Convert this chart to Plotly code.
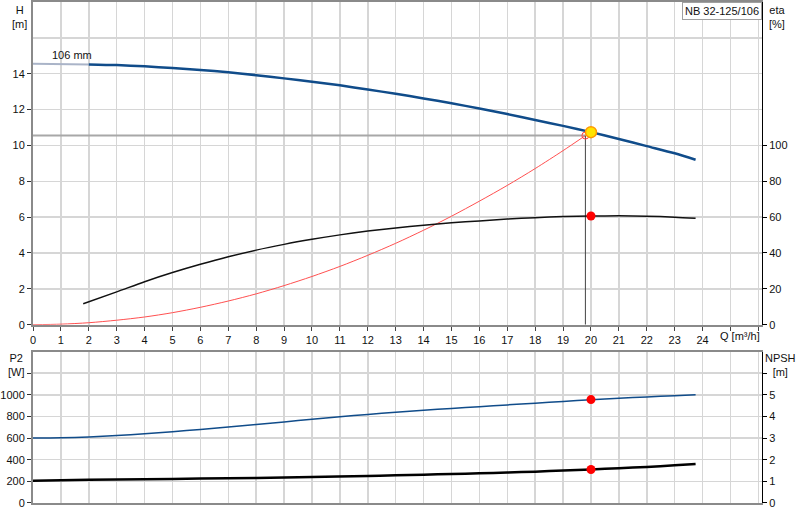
import plotly.graph_objects as go

# ---- data ----
q_h = [0, 1, 2, 3, 4, 5, 6, 7, 8, 9, 10, 11, 12, 13, 14, 15, 16, 17, 18, 19, 20, 21, 22, 23, 23.75]
h_vals = [14.55, 14.54, 14.52, 14.48, 14.41, 14.32, 14.21, 14.08, 13.92, 13.74, 13.55, 13.35,
          13.12, 12.88, 12.62, 12.35, 12.06, 11.75, 11.42, 11.09, 10.74, 10.36, 9.96, 9.56, 9.20]

q_eta = [1.8, 3, 4, 5, 6, 7, 8, 9, 10, 11, 12, 13, 14, 15, 16, 17, 18, 19, 20, 21, 22, 23, 23.75]
eta_vals = [11.7, 18.3, 24.0, 29.1, 33.7, 37.9, 41.6, 44.8, 47.6, 50.1, 52.2, 54.0, 55.5, 56.8,
            57.9, 58.9, 59.7, 60.3, 60.6, 60.7, 60.5, 60.0, 59.4]

q_sys = [0, 1, 2, 3, 4, 5, 6, 7, 8, 9, 10, 11, 12, 13, 14, 15, 16, 17, 18, 19, 19.8]
h_sys = [0, 0.03, 0.11, 0.25, 0.43, 0.67, 0.97, 1.32, 1.72, 2.18, 2.69, 3.25, 3.87, 4.54,
         5.27, 6.05, 6.89, 7.77, 8.71, 9.71, 10.55]

q_p2 = [0, 1, 2, 3, 4, 5, 6, 7, 8, 9, 10, 11, 12, 13, 14, 15, 16, 17, 18, 19, 20, 21, 22, 23, 23.75]
p2_vals = [600, 603, 611, 624, 640, 659, 680, 703, 726, 750, 774, 797, 819, 839, 857, 875,
           891, 907, 923, 939, 955, 969, 981, 992, 1000]

q_npsh = [0, 2, 4, 6, 8, 10, 12, 13, 14, 15, 16, 17, 18, 19, 20, 21, 22, 23, 23.75]
npsh_vals = [1.03, 1.07, 1.10, 1.13, 1.16, 1.20, 1.25, 1.28, 1.31, 1.34, 1.37, 1.41, 1.45,
             1.50, 1.55, 1.61, 1.67, 1.74, 1.80]

duty_q = 19.8
duty_h = 10.55
op_q = 20
op_h = 10.74
op_eta = 60.6
op_p2 = 956
op_npsh = 1.55

x_ticks = list(range(0, 27))
x_labels = [str(i) for i in range(0, 25)] + ["", ""]
h_ticks = [0, 2, 4, 6, 8, 10, 12, 14]
eta_ticks = [0, 20, 40, 60, 80, 100]
p2_ticks = [0, 200, 400, 600, 800, 1000, 1200]
p2_labels = ["0", "200", "400", "600", "800", "1000", ""]
npsh_ticks = [0, 1, 2, 3, 4, 5, 6]
npsh_labels = ["0", "1", "2", "3", "4", "5", ""]

BLUE = "#104c8a"
LIGHT = "#aab4c8"
GRID = "#d6d6d6"
AXG = "#8a8a8a"
FONT = dict(family="Liberation Sans, Arial, sans-serif", size=11, color="#111")
SMOOTH = dict(shape="spline", smoothing=0.8)

fig = go.Figure()

split = q_h.index(2)
# H curve
fig.add_trace(go.Scatter(x=q_h[:split + 1], y=h_vals[:split + 1], mode="lines",
                         line=dict(color=LIGHT, width=2), xaxis="x", yaxis="y"))
fig.add_trace(go.Scatter(x=q_h[split:], y=h_vals[split:], mode="lines",
                         line=dict(color=BLUE, width=2.5, **SMOOTH), xaxis="x", yaxis="y"))
# duty lines
fig.add_trace(go.Scatter(x=[0, duty_q], y=[duty_h, duty_h], mode="lines",
                         line=dict(color="#a8a8a8", width=2), xaxis="x", yaxis="y"))
fig.add_trace(go.Scatter(x=[duty_q, duty_q], y=[duty_h, 0], mode="lines",
                         line=dict(color="#444", width=1), xaxis="x", yaxis="y"))
# system curve
fig.add_trace(go.Scatter(x=q_sys, y=h_sys, mode="lines",
                         line=dict(color="#ff5050", width=1, **SMOOTH), xaxis="x", yaxis="y"))
fig.add_trace(go.Scatter(x=[duty_q], y=[duty_h], mode="markers",
                         marker=dict(size=7, color="rgba(0,0,0,0)", line=dict(color="#ff4040", width=1)),
                         xaxis="x", yaxis="y"))
# eta curve
fig.add_trace(go.Scatter(x=q_eta, y=eta_vals, mode="lines",
                         line=dict(color="#111", width=1.5, **SMOOTH), xaxis="x", yaxis="y2"))
fig.add_trace(go.Scatter(x=[op_q], y=[op_eta], mode="markers",
                         marker=dict(size=9, color="#ff0000"), xaxis="x", yaxis="y2"))
# operating point
fig.add_trace(go.Scatter(x=[op_q], y=[op_h], mode="markers",
                         marker=dict(size=11, color="#ffe400", line=dict(color="#ff9a00", width=1.5)),
                         xaxis="x", yaxis="y"))
# P2 and NPSH
fig.add_trace(go.Scatter(x=q_p2, y=p2_vals, mode="lines",
                         line=dict(color=BLUE, width=1.5, **SMOOTH), xaxis="x2", yaxis="y3"))
fig.add_trace(go.Scatter(x=[op_q], y=[op_p2], mode="markers",
                         marker=dict(size=9, color="#ff0000"), xaxis="x2", yaxis="y3"))
fig.add_trace(go.Scatter(x=q_npsh, y=npsh_vals, mode="lines",
                         line=dict(color="#000", width=2.5, **SMOOTH), xaxis="x2", yaxis="y4"))
fig.add_trace(go.Scatter(x=[op_q], y=[op_npsh], mode="markers",
                         marker=dict(size=9, color="#ff0000"), xaxis="x2", yaxis="y4"))

XR = [0, 26.13]
top_dom = [0.3559, 1.0]
bot_dom = [0.0, 0.3022]

common_x = dict(range=XR, tickvals=x_ticks, showgrid=True, gridcolor=GRID, gridwidth=1.5,
                zeroline=False, showline=True, linecolor=AXG, linewidth=2, mirror=True,
                tickfont=FONT)

fig.update_layout(
    width=800, height=520,
    margin=dict(l=32, r=38, t=0, b=17),
    paper_bgcolor="white", plot_bgcolor="white",
    showlegend=False,
    hovermode=False,
    font=FONT,
    xaxis=dict(**common_x, anchor="y", ticktext=x_labels, ticks="outside", ticklen=4,
               tickcolor="#444"),
    yaxis=dict(domain=top_dom, range=[0, 18], tickvals=h_ticks, ticks="outside", ticklen=4,
               tickcolor="#333", showgrid=True, gridcolor=GRID, gridwidth=1.5, zeroline=False,
               showline=True, linecolor=AXG, linewidth=2, tickfont=FONT,
               minor=dict(tickvals=[16], showgrid=True, gridcolor=GRID, gridwidth=1.5, ticks="")),
    yaxis2=dict(overlaying="y", side="right", anchor="x", range=[0, 180], tickvals=eta_ticks,
                ticks="outside", ticklen=4, tickcolor="#000", showgrid=False, zeroline=False,
                showline=True, linecolor="#000", linewidth=1, tickfont=FONT),
    xaxis2=dict(**common_x, anchor="y3", showticklabels=False, ticks=""),
    yaxis3=dict(domain=bot_dom, range=[0, 1400], tickvals=p2_ticks, ticktext=p2_labels,
                ticks="outside", ticklen=4, tickcolor="#333", showgrid=True, gridcolor=GRID,
                gridwidth=1.5, zeroline=False, showline=True, linecolor=AXG, linewidth=2,
                tickfont=FONT),
    yaxis4=dict(overlaying="y3", side="right", anchor="x2", range=[0, 7], tickvals=npsh_ticks,
                ticktext=npsh_labels, ticks="outside", ticklen=4, tickcolor="#000",
                showgrid=False, zeroline=False, showline=True, linecolor="#000", linewidth=1,
                tickfont=FONT),
)

def ann(text, x, y, xref="paper", yref="paper", xanchor="center", yanchor="top", **kw):
    fig.add_annotation(text=text, x=x, y=y, xref=xref, yref=yref, xanchor=xanchor,
                       yanchor=yanchor, showarrow=False, font=FONT, **kw)

ann("H<br>[m]", -0.0192, 1.0)
ann("eta<br>[%]", 1.0205, 1.0)
ann("P2<br>[W]", -0.0233, 0.306)
ann("NPSH<br>[m]", 1.0247, 0.306)
ann("Q [m³/h]", 25.33, 0.334, xref="x", yanchor="middle")
ann("106 mm", 0.62, 15.05, xref="x", yref="y", xanchor="left", yanchor="middle")
ann("NB 32-125/106", 1.0, 1.0, xanchor="right", bordercolor="#a0a0a0", borderwidth=1,
    bgcolor="white", borderpad=2)

fig.write_html("out.html", config={"displayModeBar": False, "staticPlot": True},
               post_script="document.body.style.margin='0';document.body.style.overflow='hidden';")
